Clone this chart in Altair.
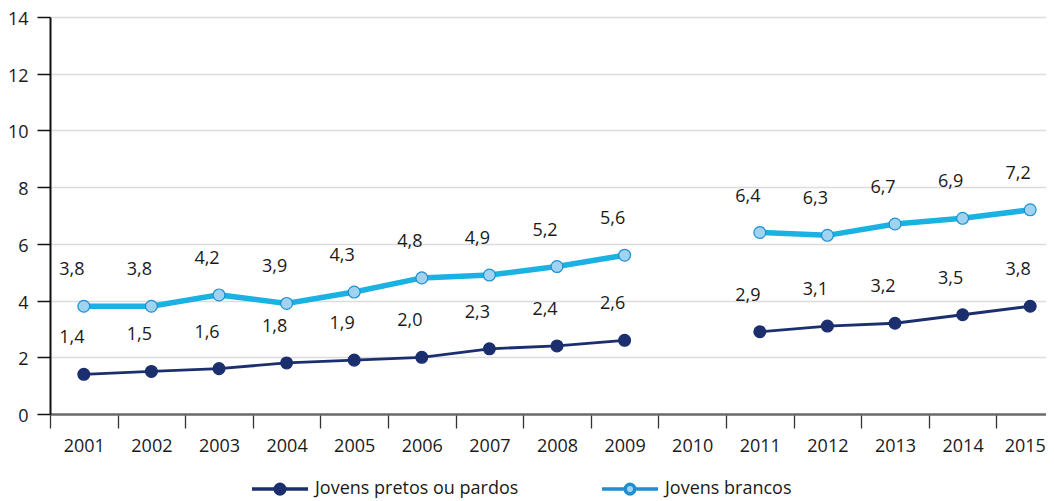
import altair as alt
import pandas as pd

years = list(range(2001, 2016))
pretos = [1.4, 1.5, 1.6, 1.8, 1.9, 2.0, 2.3, 2.4, 2.6, None, 2.9, 3.1, 3.2, 3.5, 3.8]
brancos = [3.8, 3.8, 4.2, 3.9, 4.3, 4.8, 4.9, 5.2, 5.6, None, 6.4, 6.3, 6.7, 6.9, 7.2]
series_names = ["Jovens pretos ou pardos", "Jovens brancos"]
y_ticks = [0, 2, 4, 6, 8, 10, 12, 14]
x_boundaries = [y - 0.5 for y in years]  # tick marks between the years

NAVY = "#1b2f6e"
LIGHT_LINE = "#1ab2e3"
LIGHT_FILL = "#9fd3f0"
LIGHT_STROKE = "#1f8fd0"
FONT = "Open Sans"
TXT = "#1a1a1a"

W = 996
STEP = 67.6
X_MIN = years[0] - 0.5
X_MAX = X_MIN + W / STEP
last_tick = x_boundaries[-1]

rows = []
for name, vals in zip(series_names, [pretos, brancos]):
    for yr, v in zip(years, vals):
        rows.append({"year": yr, "series": name, "value": v})
df = pd.DataFrame(rows)

x_enc = alt.X(
    "year:Q",
    scale=alt.Scale(domain=[X_MIN, X_MAX], nice=False, zero=False),
    axis=alt.Axis(
        title=None, values=x_boundaries, labelExpr="toString(datum.value + 0.5)",
        labelOffset=alt.condition(f"datum.value >= {last_tick}", alt.value(49), alt.value(STEP / 2)),
        labelAlign=alt.condition(f"datum.value >= {last_tick}", alt.value("right"), alt.value("center")),
        labelFlush=False, labelOverlap=False, labelBound=False,
        labelAngle=0, labelFontSize=18, labelFont=FONT,
        labelColor=TXT, labelPadding=9, tickSize=14, tickColor="#333333", tickWidth=1.3,
        domainColor="#6b6b6b", domainWidth=2.5, grid=False,
    ),
)
y_enc = alt.Y(
    "value:Q",
    scale=alt.Scale(domain=[0, 14], nice=False, zero=True),
    axis=alt.Axis(
        title=None, values=y_ticks, labelFontSize=18, labelFont=FONT, labelColor=TXT,
        labelPadding=9, labelOffset=2.5, tickSize=13, tickColor="#111111", tickWidth=1.5,
        domainColor="#111111", domainWidth=2, grid=True, gridColor="#dcdcdc", gridWidth=1.5,
    ),
)

base = alt.Chart(df).encode(x=x_enc, y=y_enc)

line_p = base.transform_filter(alt.datum.series == series_names[0]).mark_line(
    color=NAVY, strokeWidth=2.8
)
line_b = base.transform_filter(alt.datum.series == series_names[1]).mark_line(
    color=LIGHT_LINE, strokeWidth=5.5
)

sym = "M-1,0L-0.17,0M0.17,0L1,0M0.17,0A0.17,0.17,0,1,1,-0.17,0A0.17,0.17,0,1,1,0.17,0Z"
leg = alt.Legend(
    title=None, orient="none", legendX=200, legendY=442, direction="horizontal",
    symbolType=sym, symbolSize=3136, symbolStrokeWidth=3.5, labelFontSize=18,
    labelFont=FONT, labelColor=TXT, labelOffset=5, columnPadding=76, padding=0,
    symbolOpacity=1, labelLimit=0,
)

points = base.mark_point(shape="circle", size=140, opacity=1, fillOpacity=1, strokeWidth=1.2).encode(
    fill=alt.Fill("series:N", scale=alt.Scale(domain=series_names, range=[NAVY, LIGHT_FILL]), legend=leg),
    stroke=alt.Stroke("series:N", scale=alt.Scale(domain=series_names, range=[NAVY, LIGHT_STROKE]), legend=leg),
)

labels = base.transform_calculate(
    label="replace(format(datum.value, '.1f'), '.', ',')"
).mark_text(dx=-12, dy=-36, fontSize=18, font=FONT, color=TXT).encode(text="label:N")

chart = alt.layer(line_p, line_b, points, labels).properties(
    width=W, height=397,
    autosize=alt.AutoSizeParams(type="none"),
    padding={"left": 42, "top": 9, "right": 0, "bottom": 87},
).configure_view(stroke=None)

chart.save("out.html", embed_options={"renderer": "svg", "actions": False})
